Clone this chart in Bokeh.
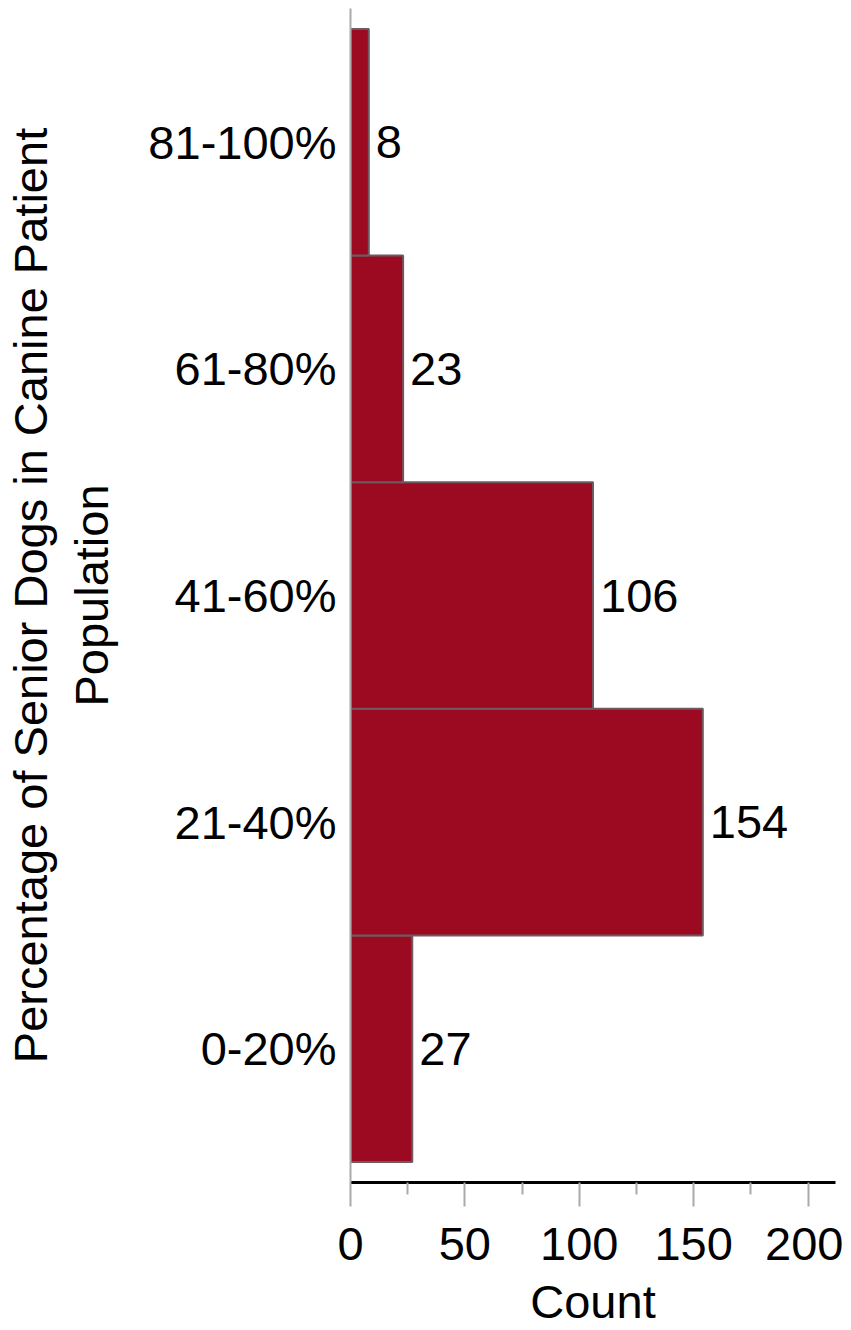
from bokeh.plotting import figure
from bokeh.models import ColumnDataSource, FactorRange, Range1d, LabelSet, FixedTicker
from bokeh.core.properties import value
from bokeh.embed import file_html
from bokeh.resources import INLINE

categories = ["0-20%", "21-40%", "41-60%", "61-80%", "81-100%"]
counts = [27, 154, 106, 23, 8]
x_ticks = [0, 50, 100, 150, 200]
x_minor = [25, 75, 125, 175]

FONT = "Liberation Sans"
FS = "47px"

src = ColumnDataSource(dict(cat=categories, count=counts, lab=[str(c) for c in counts]))

p = figure(
    width=843, height=1330,
    y_range=FactorRange(factors=categories, range_padding=0.036, range_padding_units="percent"),
    x_range=Range1d(0, 212),
    output_backend="svg", toolbar_location=None,
    min_border_left=350, min_border_right=8, min_border_top=8, min_border_bottom=139,
)
p.hbar(y="cat", right="count", left=0, height=1.0, source=src,
       fill_color="#9c0a22", line_color="#6e5a5f", line_width=2)

labels = LabelSet(x="count", y="cat", text="lab", source=src, x_offset=7,
                  text_baseline="middle", text_align="left",
                  text_font=value(FONT), text_font_size=value(FS), text_color="black")
p.add_layout(labels)

p.grid.visible = False
p.outline_line_color = None
p.background_fill_color = "white"
p.border_fill_color = "white"

# x axis
xa = p.xaxis[0]
xa.ticker = FixedTicker(ticks=x_ticks, minor_ticks=x_minor)
xa.axis_line_color = "black"
xa.axis_line_width = 3
xa.major_tick_line_color = "#aaaaaa"
xa.major_tick_line_width = 2
xa.major_tick_in = 0
xa.major_tick_out = 24
xa.minor_tick_line_color = "#aaaaaa"
xa.minor_tick_line_width = 2
xa.minor_tick_in = 0
xa.minor_tick_out = 12
xa.major_label_text_font = FONT
xa.major_label_text_font_size = FS
xa.major_label_text_color = "black"
xa.major_label_standoff = 21
xa.axis_label = "Count"
xa.axis_label_text_font = FONT
xa.axis_label_text_font_size = FS
xa.axis_label_text_font_style = "normal"
xa.axis_label_text_color = "black"
xa.axis_label_standoff = 12

# y axis
ya = p.yaxis[0]
ya.axis_line_color = "#aaaaaa"
ya.axis_line_width = 2
ya.major_tick_line_color = None
ya.minor_tick_line_color = None
ya.major_tick_in = 0
ya.major_tick_out = 0
ya.major_label_text_font = FONT
ya.major_label_text_font_size = FS
ya.major_label_text_color = "black"
ya.major_label_standoff = 14
ya.axis_label = "Percentage of Senior Dogs in Canine Patient\nPopulation"
ya.axis_label_text_font = FONT
ya.axis_label_text_font_size = FS
ya.axis_label_text_font_style = "normal"
ya.axis_label_text_color = "black"
ya.axis_label_text_line_height = 1.15
ya.axis_label_standoff = 27

open("out.html", "w").write(file_html(p, INLINE))
